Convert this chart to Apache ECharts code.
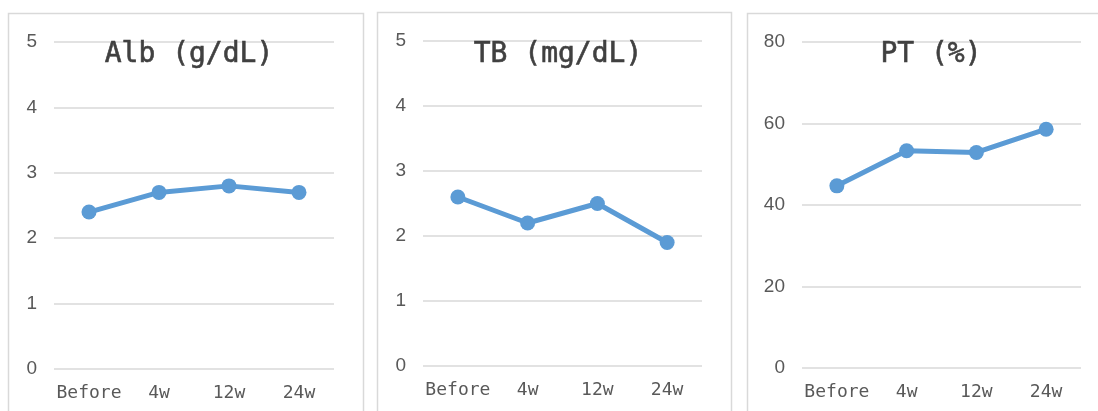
<!DOCTYPE html>
<html>
<head>
<meta charset="utf-8">
<script src="https://cdn.jsdelivr.net/npm/echarts@6/dist/echarts.min.js"></script>
<style>html,body{margin:0;padding:0;background:#fff}#c{width:1098px;height:411px}</style>
</head>
<body>
<div id="c"></div>
<script>
const categories = ['Before', '4w', '12w', '24w'];
const titles = ['Alb (g/dL)', 'TB (mg/dL)', 'PT (%)'];
const albValues = [2.4, 2.7, 2.8, 2.7];
const tbValues = [2.6, 2.2, 2.5, 1.9];
const ptValues = [44.7, 53.3, 52.9, 58.6];
const yMax = [5, 5, 80];
const yInterval = [1, 1, 20];

const seriesData = [albValues, tbValues, ptValues];
const grids = [
  {left: 54, width: 280, top: 42, height: 327},
  {left: 423, width: 279, top: 41, height: 325},
  {left: 802, width: 279, top: 42, height: 326}
];
const titleCenters = [184, 553, 926];
const panels = [
  {x: 8, y: 13, w: 355, h: 420},
  {x: 377, y: 12, w: 354, h: 420},
  {x: 747, y: 13, w: 380, h: 420}
];
const gray = '#595959';
const chart = echarts.init(document.getElementById('c'));
chart.setOption({
  animation: false,
  backgroundColor: '#fff',
  graphic: panels.map(p => ({
    type: 'rect', shape: {x: p.x + 0.5, y: p.y + 0.5, width: p.w, height: p.h},
    style: {fill: 'none', stroke: '#d9d9d9', lineWidth: 1.5}, z: -1
  })),
  title: titles.map((t, i) => ({
    text: t, left: titleCenters[i], top: 36, textAlign: 'center',
    textStyle: {fontFamily: 'DejaVu Sans Mono', fontSize: 28, fontWeight: 'normal', color: '#404040',
      textBorderColor: '#404040', textBorderWidth: 0.6}
  })),
  grid: grids,
  xAxis: grids.map((g, i) => ({
    type: 'category', gridIndex: i, data: categories, boundaryGap: true,
    axisLine: {show: false}, axisTick: {show: false},
    axisLabel: {interval: 0, fontFamily: 'DejaVu Sans Mono', fontSize: 18, color: gray, margin: 15}
  })),
  yAxis: grids.map((g, i) => ({
    type: 'value', gridIndex: i, min: 0, max: yMax[i], interval: yInterval[i],
    axisLine: {show: false}, axisTick: {show: false},
    axisLabel: {fontFamily: 'Liberation Sans', fontSize: 19, color: gray, margin: 17},
    splitLine: {lineStyle: {color: '#d9d9d9', width: 1.5}}
  })),
  series: seriesData.map((d, i) => ({
    type: 'line', xAxisIndex: i, yAxisIndex: i, data: d,
    symbol: 'circle', symbolSize: 15,
    lineStyle: {color: '#5b9bd5', width: 5},
    itemStyle: {color: '#5b9bd5'}
  }))
});
</script>
</body>
</html>
